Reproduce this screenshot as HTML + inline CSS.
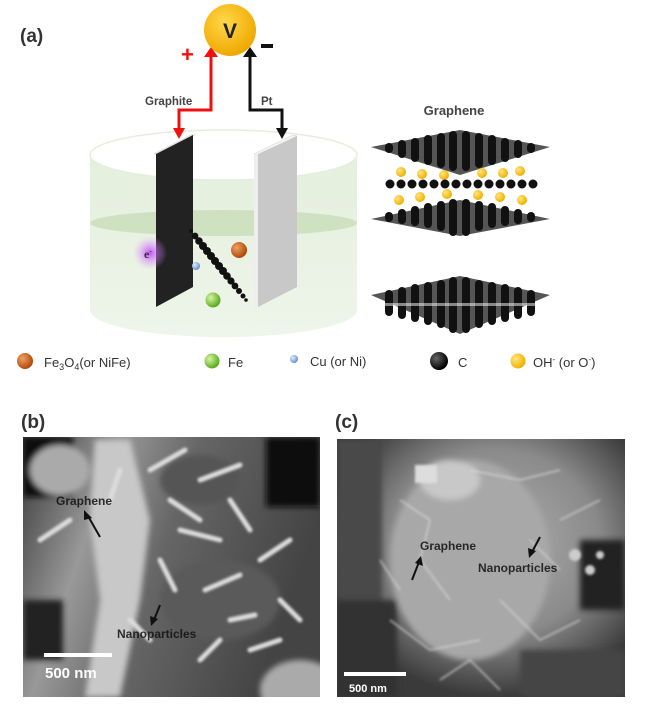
<!DOCTYPE html>
<html><head><meta charset="utf-8"><style>
html,body{margin:0;padding:0;background:#fff;}
body{width:649px;height:716px;overflow:hidden;position:relative;font-family:"Liberation Sans",sans-serif;}
svg{position:absolute;left:0;top:0;}
</style></head><body>
<svg width="649" height="716" viewBox="0 0 649 716" xmlns="http://www.w3.org/2000/svg">
<defs>
<radialGradient id="gold" cx="40%" cy="35%" r="65%"><stop offset="0" stop-color="#ffd84a"/><stop offset="1" stop-color="#f0a800"/></radialGradient>
<radialGradient id="orange" cx="35%" cy="35%" r="65%"><stop offset="0" stop-color="#f0a060"/><stop offset="1" stop-color="#b04a0a"/></radialGradient>
<radialGradient id="green" cx="35%" cy="35%" r="65%"><stop offset="0" stop-color="#d8f5a0"/><stop offset="1" stop-color="#5aaa20"/></radialGradient>
<radialGradient id="blue" cx="35%" cy="35%" r="65%"><stop offset="0" stop-color="#e0eeff"/><stop offset="1" stop-color="#6a90d0"/></radialGradient>
<radialGradient id="blk" cx="35%" cy="35%" r="65%"><stop offset="0" stop-color="#666"/><stop offset="1" stop-color="#000"/></radialGradient>
<radialGradient id="yel" cx="35%" cy="35%" r="65%"><stop offset="0" stop-color="#ffe680"/><stop offset="1" stop-color="#f0b000"/></radialGradient>
<radialGradient id="glow" cx="50%" cy="50%" r="50%"><stop offset="0" stop-color="#c040ff" stop-opacity="0.9"/><stop offset="1" stop-color="#e0a0ff" stop-opacity="0"/></radialGradient>
<linearGradient id="cyl" x1="0" y1="0" x2="0" y2="1"><stop offset="0" stop-color="#e4efdc"/><stop offset="1" stop-color="#eef5ea"/></linearGradient>
<linearGradient id="bgB" x1="0" y1="0" x2="1" y2="0.3"><stop offset="0" stop-color="#3a3a3a"/><stop offset="0.3" stop-color="#999"/><stop offset="0.55" stop-color="#666"/><stop offset="1" stop-color="#444"/></linearGradient>
<radialGradient id="bgC" cx="55%" cy="40%" r="60%"><stop offset="0" stop-color="#b0b0b0"/><stop offset="0.6" stop-color="#8a8a8a"/><stop offset="1" stop-color="#3a3a3a"/></radialGradient>
<filter id="bl"><feGaussianBlur stdDeviation="1.2"/></filter>
<filter id="bl3"><feGaussianBlur stdDeviation="3"/></filter>
<clipPath id="cb"><rect x="23" y="437" width="297" height="260"/></clipPath>
<clipPath id="cc"><rect x="337" y="439" width="288" height="258"/></clipPath>
</defs>

<text x="20" y="42" font-size="19" font-weight="bold" fill="#333">(a)</text>

<path d="M90 155 L90 310 A133 27 0 0 0 357 310 L357 155 Z" fill="url(#cyl)"/>
<ellipse cx="223.5" cy="155" rx="133.5" ry="25" fill="#fff" stroke="#e4eee0" stroke-width="1.5"/>
<ellipse cx="223.5" cy="223" rx="133.5" ry="13" fill="#c7ddb8" opacity="0.8"/>

<polygon points="154,154 191,135 195,135 158,154" fill="#fff" stroke="#ddd"/>
<polygon points="156,154 193,135 193,287 156,307" fill="#222"/>
<polygon points="254,154 293,135 297,136 258,155" fill="#f5f5f5" stroke="#ccc" stroke-width="0.5"/>
<polygon points="254,154 258,154 258,307 254,307" fill="#eee"/>
<polygon points="258,154 297,136 297,287 258,307" fill="#c8c8c8"/>

<circle cx="150" cy="253" r="17" fill="url(#glow)"/>
<text x="144" y="258" font-size="12" font-family="Liberation Serif,serif" font-weight="bold" fill="#333">e<tspan font-size="7" dy="-5">-</tspan></text>

<g fill="#111">
<circle cx="191" cy="231" r="2"/><circle cx="195" cy="236" r="3.4"/><circle cx="199" cy="241" r="3.8"/><circle cx="203" cy="246" r="4"/><circle cx="207" cy="251" r="4"/><circle cx="211" cy="256" r="4"/><circle cx="215" cy="261" r="4"/><circle cx="219" cy="266" r="4"/><circle cx="223" cy="271" r="4"/><circle cx="227" cy="276" r="3.8"/><circle cx="231" cy="281" r="3.6"/><circle cx="235" cy="286" r="3.4"/><circle cx="239" cy="291" r="3"/><circle cx="243" cy="296" r="2.5"/><circle cx="246" cy="300" r="1.8"/>
</g>
<circle cx="239" cy="250" r="8" fill="url(#orange)"/>
<circle cx="196" cy="266" r="4" fill="url(#blue)"/>
<circle cx="213" cy="300" r="7.5" fill="url(#green)"/>

<polyline points="211,55 211,110 179,110 179,130" fill="none" stroke="#f01010" stroke-width="3"/>
<polygon points="204,57 218,57 211,47" fill="#f01010"/>
<polygon points="173,128 185,128 179,139" fill="#f01010"/>
<polyline points="250,55 250,110 282,110 282,130" fill="none" stroke="#111" stroke-width="3"/>
<polygon points="243,57 257,57 250,47" fill="#111"/>
<polygon points="276,128 288,128 282,139" fill="#111"/>
<text x="181" y="62" font-size="22" font-weight="bold" fill="#f01010">+</text>
<rect x="261" y="44" width="12" height="4" fill="#111"/>
<circle cx="230" cy="30" r="26" fill="url(#gold)"/>
<text x="230" y="38" font-size="21" font-weight="bold" fill="#222" text-anchor="middle">V</text>
<text x="145" y="105" font-size="11.5" font-weight="bold" fill="#444">Graphite</text>
<text x="261" y="105" font-size="11.5" font-weight="bold" fill="#444">Pt</text>

<text x="454" y="115" font-size="13" font-weight="bold" fill="#444" text-anchor="middle">Graphene</text>
<g>
<polygon points="371,147 460,130 550,147 460,175" fill="#555"/>
<g fill="#111">
<rect x="385" y="143" width="8" height="10" rx="4"/><rect x="398" y="140" width="8" height="18" rx="4"/><rect x="411" y="138" width="8" height="24" rx="4"/><rect x="424" y="135" width="8" height="30" rx="4"/><rect x="437" y="133" width="8" height="35" rx="4"/><rect x="449" y="131" width="8" height="40" rx="4"/><rect x="462" y="131" width="8" height="40" rx="4"/><rect x="475" y="133" width="8" height="35" rx="4"/><rect x="488" y="135" width="8" height="30" rx="4"/><rect x="501" y="138" width="8" height="24" rx="4"/><rect x="514" y="140" width="8" height="18" rx="4"/><rect x="527" y="143" width="8" height="10" rx="4"/>
</g>
<g fill="url(#yel)">
<circle cx="401" cy="172" r="5"/><circle cx="422" cy="174" r="5"/><circle cx="444" cy="175" r="5"/><circle cx="482" cy="173" r="5"/><circle cx="503" cy="173" r="5"/><circle cx="520" cy="171" r="5"/>
<circle cx="399" cy="200" r="5"/><circle cx="420" cy="197" r="5"/><circle cx="447" cy="194" r="5"/><circle cx="478" cy="195" r="5"/><circle cx="500" cy="197" r="5"/><circle cx="522" cy="200" r="5"/>
</g>
<g fill="#111">
<circle cx="390" cy="184" r="4.5"/><circle cx="401" cy="184" r="4.5"/><circle cx="412" cy="184" r="4.5"/><circle cx="423" cy="184" r="4.5"/><circle cx="434" cy="184" r="4.5"/><circle cx="445" cy="184" r="4.5"/><circle cx="456" cy="184" r="4.5"/><circle cx="467" cy="184" r="4.5"/><circle cx="478" cy="184" r="4.5"/><circle cx="489" cy="184" r="4.5"/><circle cx="500" cy="184" r="4.5"/><circle cx="511" cy="184" r="4.5"/><circle cx="522" cy="184" r="4.5"/><circle cx="533" cy="184" r="4.5"/>
</g>
<polygon points="371,219 460,200 550,219 460,236" fill="#555"/>
<g fill="#111">
<rect x="385" y="212" width="8" height="10" rx="4"/><rect x="398" y="209" width="8" height="15" rx="4"/><rect x="411" y="206" width="8" height="20" rx="4"/><rect x="424" y="203" width="8" height="25" rx="4"/><rect x="437" y="201" width="8" height="30" rx="4"/><rect x="449" y="199" width="8" height="37" rx="4"/><rect x="462" y="199" width="8" height="37" rx="4"/><rect x="475" y="201" width="8" height="30" rx="4"/><rect x="488" y="203" width="8" height="25" rx="4"/><rect x="501" y="206" width="8" height="20" rx="4"/><rect x="514" y="209" width="8" height="15" rx="4"/><rect x="527" y="212" width="8" height="10" rx="4"/>
</g>
<polygon points="371,295 460,276 550,295 460,334" fill="#555"/>
<g fill="#111">
<rect x="385" y="290" width="8" height="26" rx="4"/><rect x="398" y="287" width="8" height="32" rx="4"/><rect x="411" y="284" width="8" height="38" rx="4"/><rect x="424" y="282" width="8" height="43" rx="4"/><rect x="437" y="280" width="8" height="48" rx="4"/><rect x="449" y="277" width="8" height="56" rx="4"/><rect x="462" y="277" width="8" height="56" rx="4"/><rect x="475" y="280" width="8" height="48" rx="4"/><rect x="488" y="282" width="8" height="43" rx="4"/><rect x="501" y="284" width="8" height="38" rx="4"/><rect x="514" y="287" width="8" height="32" rx="4"/><rect x="527" y="290" width="8" height="26" rx="4"/>
</g>
<rect x="375" y="303" width="170" height="3" fill="#fff" opacity="0.5"/>
</g>

<circle cx="25" cy="361" r="8" fill="url(#orange)"/>
<text x="44" y="367" font-size="13" fill="#333">Fe<tspan font-size="9" dy="3">3</tspan><tspan dy="-3">O</tspan><tspan font-size="9" dy="3">4</tspan><tspan dy="-3">(or NiFe)</tspan></text>
<circle cx="212" cy="361" r="7.5" fill="url(#green)"/>
<text x="228" y="367" font-size="13" fill="#333">Fe</text>
<circle cx="294" cy="359" r="4" fill="url(#blue)"/>
<text x="310" y="366" font-size="13" fill="#333">Cu (or Ni)</text>
<circle cx="439" cy="361" r="9" fill="url(#blk)"/>
<text x="458" y="367" font-size="13" fill="#333">C</text>
<circle cx="518" cy="361" r="7.5" fill="url(#yel)"/>
<text x="533" y="367" font-size="13" fill="#333">OH<tspan font-size="8" dy="-5">-</tspan><tspan dy="5"> (or O</tspan><tspan font-size="8" dy="-5">-</tspan><tspan dy="5">)</tspan></text>

<text x="21" y="428" font-size="19" font-weight="bold" fill="#333">(b)</text>
<g clip-path="url(#cb)">
<rect x="23" y="437" width="297" height="260" fill="url(#bgB)"/>
<g filter="url(#bl3)">
<rect x="23" y="437" width="50" height="60" fill="#111"/>
<rect x="23" y="600" width="40" height="60" fill="#222"/>
<rect x="266" y="437" width="54" height="70" fill="#0a0a0a"/>
<path d="M95 440 L130 440 L150 520 L140 600 L120 697 L85 697 L100 600 L90 520Z" fill="#c8c8c8"/>
<ellipse cx="220" cy="600" rx="60" ry="40" fill="#5a5a5a"/>
<ellipse cx="300" cy="690" rx="40" ry="30" fill="#aaa"/>
<ellipse cx="60" cy="470" rx="30" ry="25" fill="#aaa"/>
<ellipse cx="200" cy="480" rx="40" ry="25" fill="#555"/>
</g>
<g stroke="#dcdcdc" stroke-width="5" stroke-linecap="round" filter="url(#bl)" fill="none">
<path d="M150 470 L185 450"/><path d="M170 500 L200 520"/><path d="M200 480 L240 465"/><path d="M230 500 L250 530"/><path d="M180 530 L220 540"/><path d="M230 620 L255 615"/><path d="M205 590 L240 575"/><path d="M260 560 L290 540"/><path d="M160 560 L175 590"/><path d="M130 620 L150 640"/><path d="M250 650 L280 640"/><path d="M40 540 L70 520"/><path d="M200 660 L220 640"/><path d="M280 600 L300 620"/><path d="M120 470 L110 500"/>
</g>
</g>
<text x="56" y="505" font-size="12" fill="#111" font-weight="bold" opacity="0.85">Graphene</text>
<line x1="100" y1="537" x2="88" y2="516" stroke="#111" stroke-width="2"/>
<polygon points="84,510 92,518 84,520" fill="#111"/>
<text x="117" y="638" font-size="12" fill="#111" font-weight="bold" opacity="0.85">Nanoparticles</text>
<line x1="160" y1="605" x2="154" y2="620" stroke="#111" stroke-width="2"/>
<polygon points="151,626 150,616 158,619" fill="#111"/>
<rect x="44" y="653" width="68" height="4" fill="#fff"/>
<text x="45" y="678" font-size="15" font-weight="bold" fill="#fff">500 nm</text>

<text x="335" y="428" font-size="19" font-weight="bold" fill="#333">(c)</text>
<g clip-path="url(#cc)">
<rect x="337" y="439" width="288" height="258" fill="url(#bgC)"/>
<g filter="url(#bl3)">
<rect x="337" y="439" width="45" height="258" fill="#4a4a4a"/>
<rect x="337" y="600" width="60" height="97" fill="#333"/>
<rect x="580" y="540" width="45" height="70" fill="#222"/>
<rect x="520" y="650" width="105" height="47" fill="#444"/>
<ellipse cx="470" cy="560" rx="80" ry="100" fill="#a8a8a8"/>
<ellipse cx="450" cy="480" rx="30" ry="20" fill="#c8c8c8"/>
</g>
<g stroke="#d8d8d8" stroke-width="1.5" fill="none" opacity="0.8" filter="url(#bl)">
<path d="M400 500 L430 520 L420 560 L450 600"/><path d="M470 470 L520 480 L560 470"/><path d="M500 600 L540 640 L580 620"/><path d="M390 620 L430 650 L480 640"/><path d="M560 520 L600 500"/><path d="M440 680 L470 660 L500 690"/><path d="M380 560 L400 590"/><path d="M530 540 L560 570"/>
</g>
<rect x="415" y="465" width="22" height="18" fill="#ddd" filter="url(#bl)"/>
<g fill="#ccc" filter="url(#bl)"><circle cx="575" cy="555" r="6"/><circle cx="590" cy="570" r="5"/><circle cx="600" cy="555" r="4"/></g>
</g>
<text x="420" y="550" font-size="12" fill="#111" font-weight="bold" opacity="0.85">Graphene</text>
<line x1="412" y1="580" x2="419" y2="562" stroke="#111" stroke-width="2"/>
<polygon points="421,556 423,566 415,563" fill="#111"/>
<text x="478" y="572" font-size="12" fill="#111" font-weight="bold" opacity="0.85">Nanoparticles</text>
<line x1="540" y1="537" x2="532" y2="552" stroke="#111" stroke-width="2"/>
<polygon points="529,558 528,548 536,551" fill="#111"/>
<rect x="344" y="672" width="62" height="4" fill="#fff"/>
<text x="349" y="692" font-size="11" font-weight="bold" fill="#fff">500 nm</text>
</svg>
</body></html>
